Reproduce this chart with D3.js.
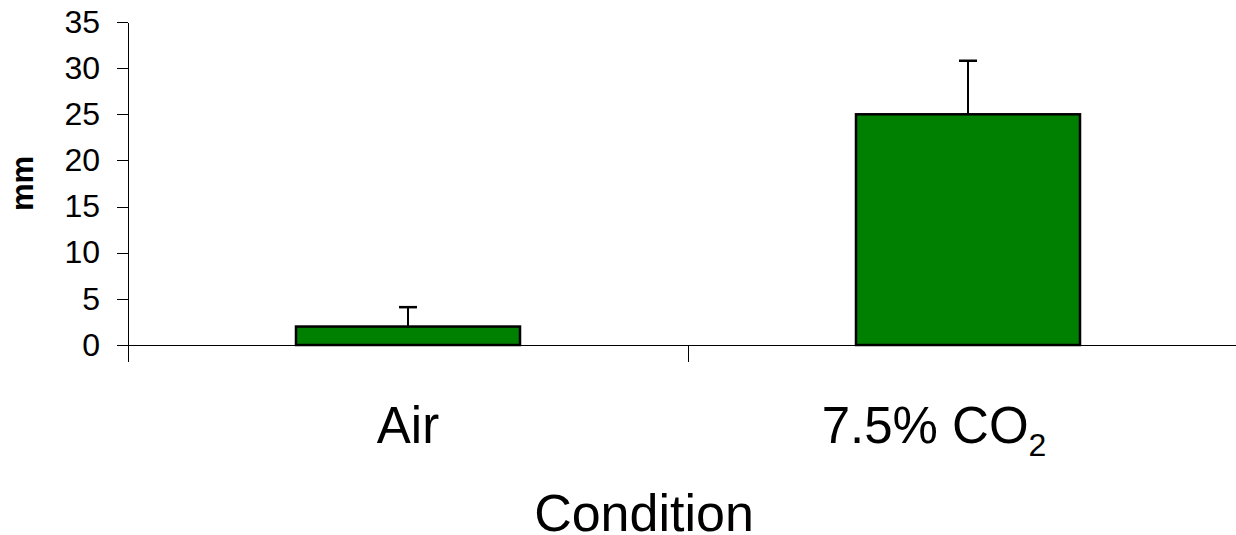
<!DOCTYPE html>
<html>
<head>
<meta charset="utf-8">
<script src="https://cdn.jsdelivr.net/npm/d3@7"></script>
<style>
  body { margin: 0; background: #fff; }
  text { font-family: "Liberation Sans", Arial, sans-serif; fill: #000; }
  .axis path, .axis line { stroke: #000; stroke-width: 1px; shape-rendering: crispEdges; }
</style>
</head>
<body>
<svg id="chart"></svg>
<script>
// data
var categories = ["Air", "7.5% CO2"];
var labelMain = ["Air", "7.5% CO"];
var labelSub = ["", "2"];
var means = [2, 25];
var errors = [2.1, 5.8];
var yTicks = [0, 5, 10, 15, 20, 25, 30, 35];

// set the dimensions and margins of the graph
var width = 1236,
  height = 535;
var margin = { top: 22, left: 128, bottom: 190 };
var plotBottom = height - margin.bottom; // 345

var svg = d3.select("#chart")
  .attr("width", width)
  .attr("height", height);

// set the ranges
var x = d3.scaleBand().domain(categories).range([margin.left, 1248]).padding(0);
var xEdge = d3.scaleLinear().domain([0, categories.length]).range([margin.left, 1248]);
var y = d3.scaleLinear().domain([0, 35]).range([plotBottom, margin.top]);

var barW = x.bandwidth() * 0.4;

// Add the X Axis (line + category boundary ticks)
svg.append("g")
  .attr("class", "axis")
  .attr("transform", "translate(0," + plotBottom + ")")
  .call(d3.axisBottom(xEdge)
    .tickValues(d3.range(categories.length + 1))
    .tickSize(17)
    .tickSizeOuter(0)
    .tickFormat(""));

// Add the Y Axis
svg.append("g")
  .attr("class", "axis")
  .attr("transform", "translate(" + margin.left + ",0)")
  .call(d3.axisLeft(y)
    .tickValues(yTicks)
    .tickSize(11)
    .tickPadding(17)
    .tickSizeOuter(0))
  .selectAll("text")
  .style("font-size", "32px");

// error bars (upper only)
var eb = svg.selectAll(".err")
  .data(categories)
  .enter().append("g")
  .attr("class", "err");

eb.append("line")
  .attr("x1", function(d) { return x(d) + x.bandwidth() / 2; })
  .attr("x2", function(d) { return x(d) + x.bandwidth() / 2; })
  .attr("y1", function(d, i) { return y(means[i]); })
  .attr("y2", function(d, i) { return y(means[i] + errors[i]); })
  .attr("stroke", "#000")
  .attr("stroke-width", 2);

eb.append("line")
  .attr("x1", function(d) { return x(d) + x.bandwidth() / 2 - 9; })
  .attr("x2", function(d) { return x(d) + x.bandwidth() / 2 + 9; })
  .attr("y1", function(d, i) { return y(means[i] + errors[i]); })
  .attr("y2", function(d, i) { return y(means[i] + errors[i]); })
  .attr("stroke", "#000")
  .attr("stroke-width", 2.5);

// bars
svg.selectAll(".bar")
  .data(categories)
  .enter().append("rect")
  .attr("class", "bar")
  .attr("x", function(d) { return x(d) + (x.bandwidth() - barW) / 2; })
  .attr("width", barW)
  .attr("y", function(d, i) { return y(means[i]); })
  .attr("height", function(d, i) { return y(0) - y(means[i]); })
  .attr("fill", "#008000")
  .attr("stroke", "#000")
  .attr("stroke-width", 2.5);

// category labels
var lab = svg.selectAll(".catLabel")
  .data(categories)
  .enter().append("text")
  .attr("class", "catLabel")
  .attr("x", function(d, i) { return x(d) + x.bandwidth() / 2 - (labelSub[i] ? 34 : 0); })
  .attr("y", 443)
  .style("text-anchor", "middle")
  .style("font-size", "51px");

lab.append("tspan").text(function(d, i) { return labelMain[i]; });
lab.append("tspan")
  .attr("dy", 13)
  .style("font-size", "32px")
  .text(function(d, i) { return labelSub[i]; });

// axis titles
svg.append("text")
  .attr("x", 644)
  .attr("y", 531)
  .style("text-anchor", "middle")
  .style("font-size", "52px")
  .text("Condition");

svg.append("text")
  .attr("transform", "translate(33," + (plotBottom + margin.top) / 2 + ") rotate(-90)")
  .style("text-anchor", "middle")
  .style("font-size", "31px")
  .style("font-weight", "bold")
  .text("mm");
</script>
</body>
</html>
